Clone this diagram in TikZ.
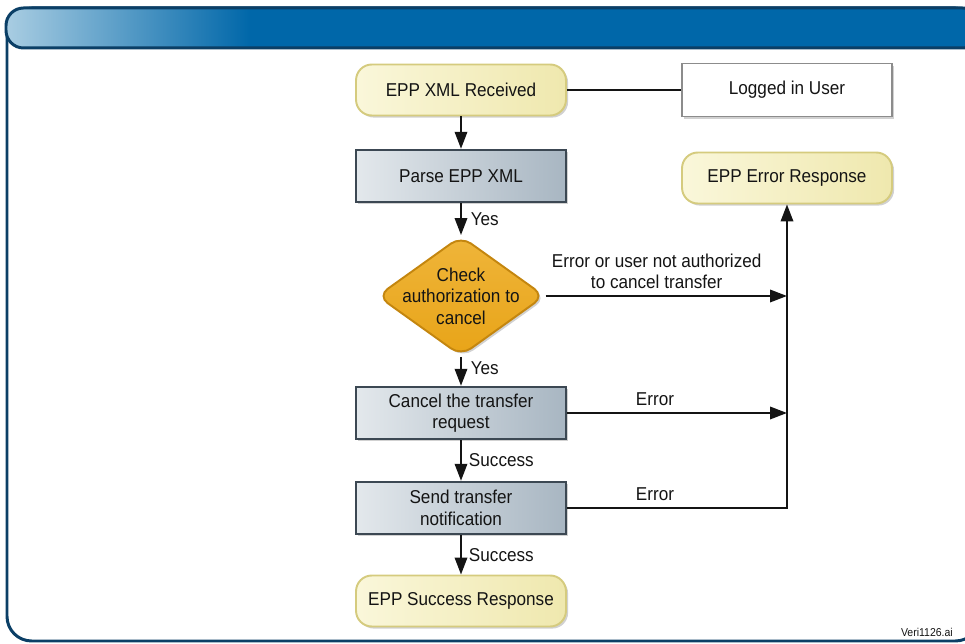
\documentclass[tikz,border=0pt]{standalone}
\usepackage{fontspec}
\setmainfont{Liberation Sans}[FakeStretch=0.92]
\usetikzlibrary{arrows.meta,positioning,shapes.geometric,shadows}
\definecolor{ink}{HTML}{141414}
\definecolor{frame}{HTML}{0B3F66}
\definecolor{barblue}{HTML}{0067A9}
\definecolor{barlight}{HTML}{A9CDE2}
\definecolor{termfill}{HTML}{EFE8AE}
\definecolor{termlite}{HTML}{FAF7DA}
\definecolor{termedge}{HTML}{D5CB7E}
\definecolor{procL}{HTML}{E3E8EC}
\definecolor{procR}{HTML}{A8B6C2}
\definecolor{procedge}{HTML}{3C4853}
\definecolor{decfill}{HTML}{E8A418}
\definecolor{declite}{HTML}{EFB53A}
\definecolor{decedge}{HTML}{C4860F}
\definecolor{useredge}{HTML}{8C8C8C}
\tikzset{
  every node/.style={font=\fontsize{10.6}{12.2}\selectfont, text=ink},
  shadow/.style={
    general shadow={
      fill=black!18,
      shadow xshift=1.2pt,
      shadow yshift=-1.2pt
    }
  },
  term/.style={
    draw=termedge,
    line width=1.1pt,
    left color=termlite,
    right color=termfill,
    rounded corners=9pt,
    minimum width=4.2cm,
    minimum height=1.02cm,
    align=center,
    shadow
  },
  proc/.style={
    draw=procedge,
    line width=1.1pt,
    left color=procL,
    right color=procR,
    minimum width=4.2cm,
    minimum height=1.05cm,
    inner sep=1pt,
    align=center,
    shadow
  },
  userbox/.style={draw=useredge, line width=1.1pt, fill=white, minimum width=4.2cm, minimum height=1.06cm, shadow},
  decision/.style={
    diamond,
    aspect=1.37,
    draw=decedge,
    top color=declite,
    bottom color=decfill,
    line width=1.1pt,
    rounded corners=7pt,
    inner sep=-7pt,
    minimum width=3.35cm,
    minimum height=2.4cm,
    align=center,
    shadow
  },
  arrow/.style={-{Triangle[length=0.34cm,width=0.25cm]}, line width=1.1pt, draw=ink},
  link/.style={line width=1.1pt, draw=ink},
  annot/.style={font=\fontsize{10.6}{12.2}\selectfont, text=ink, align=center}
}

\begin{document}
\begin{tikzpicture}[x=0.02cm, y=-0.02cm]
  \useasboundingbox (0,0) rectangle (965,644);
  % Frame and header bar
  \begin{scope}
    \clip (0,0) rectangle (965,644);
    \draw[frame, line width=1.7pt, rounded corners=14pt] (7,8) rectangle (980,641);
    \begin{scope}
      \clip[rounded corners=10pt] (6,8) rectangle (980,48);
      \fill[barblue] (6,8) rectangle (980,48);
      \shade[left color=barlight, right color=barblue] (6,8) rectangle (250,48);
    \end{scope}
    \draw[frame, line width=1.7pt, rounded corners=10pt] (6,8) rectangle (980,48);
  \end{scope}

  % Main flow
  \node[term] (recv) at (461,90) {EPP XML Received};
  \node[userbox] (user) at (787,90) {Logged in User};
  \node[proc] (parse) at (461,176) {Parse EPP XML};
  \node[decision] (chk) at (461,296) {Check\\authorization to\\cancel};
  \node[proc] (cancel) at (461,413) {Cancel the transfer\\request};
  \node[proc] (send) at (461,508) {Send transfer\\notification};
  \node[term] (ok) at (461,601) {EPP Success Response};
  \node[term] (err) at (787,178) {EPP Error Response};

  \draw[link] (recv) -- (user);
  \draw[arrow] (recv) -- (parse);
  \draw[arrow] (parse) -- node[annot, right, inner sep=5pt] {Yes} (chk);
  \draw[arrow] (chk) -- node[annot, right, inner sep=5pt, pos=0.4] {Yes} (cancel);
  \draw[arrow] (cancel) -- node[annot, right, inner sep=4pt] {Success} (send);
  \draw[arrow] (send) -- node[annot, right, inner sep=4pt] {Success} (ok);

  % Error paths
  \draw[arrow] (chk.east) -- node[annot, above, pos=0.46] {Error or user not authorized\\to cancel transfer} (chk.east -| err.south);
  \draw[arrow] (cancel.east) -- node[annot, above, pos=0.4] {Error} (cancel.east -| err.south);
  \draw[arrow] (send.east) -- node[annot, above, pos=0.4] {Error} (send.east -| err.south) -- (err.south);

  \node[font=\fontsize{6.5}{7}\selectfont, anchor=east] (tag) at (959,632) {Veri1126.ai};
\end{tikzpicture}
\end{document}
